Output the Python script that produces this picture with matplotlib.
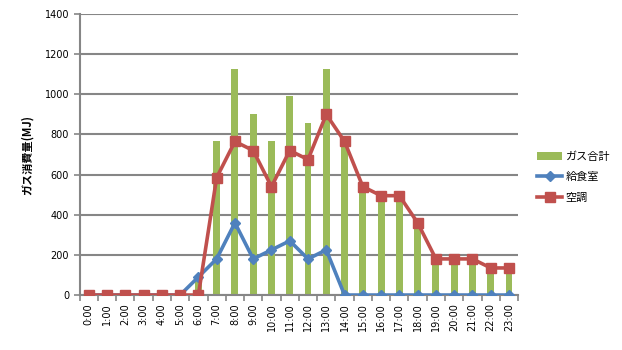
import matplotlib.pyplot as plt
import numpy as np

plt.rcParams['font.family'] = ['Noto Sans CJK JP', 'DejaVu Sans']

hours = [f"{h}:00" for h in range(24)]
gas_total = [0, 0, 0, 0, 0, 0, 90, 765, 1125, 900, 765, 990, 855, 1125,
             765, 540, 495, 495, 360, 180, 180, 180, 135, 135]
kitchen = [0, 0, 0, 0, 0, 0, 90, 180, 360, 180, 225, 270, 180, 225,
           0, 0, 0, 0, 0, 0, 0, 0, 0, 0]
aircon = [0, 0, 0, 0, 0, 0, 0, 585, 765, 720, 540, 720, 675, 900,
          765, 540, 495, 495, 360, 180, 180, 180, 135, 135]

grey = '#868686'
x = np.arange(len(hours))

fig = plt.figure(figsize=(6.22, 3.5), dpi=100)
ax = fig.add_axes([0.128, 0.157, 0.705, 0.803])

bars = ax.bar(x, gas_total, width=0.38, color='#9BBB59', label='ガス合計', zorder=2)
l1, = ax.plot(x, kitchen, color='#4F81BD', lw=2.6, marker='D', ms=5.5,
              label='給食室', zorder=3)
l2, = ax.plot(x, aircon, color='#C0504D', lw=2.6, marker='s', ms=7,
              label='空調', zorder=4)

ax.set_xlim(-0.5, 23.5)
ax.set_ylim(0, 1400)
ax.set_yticks(range(0, 1401, 200))
ax.yaxis.grid(True, color=grey, lw=1.5, zorder=0)
ax.set_axisbelow(True)

ax.set_xticks(x)
ax.set_xticklabels(hours, rotation=90, fontsize=7, family='DejaVu Sans')
ax.set_xticks(np.arange(-0.5, 24, 1), minor=True)
ax.tick_params(axis='x', which='major', length=0, pad=6)
ax.tick_params(axis='x', which='minor', length=4, color=grey, width=1.2)
ax.tick_params(axis='y', length=4, color=grey, width=1.2, labelsize=7)
for lab in ax.get_yticklabels():
    lab.set_family('DejaVu Sans')

for side in ['top', 'right']:
    ax.spines[side].set_visible(False)
for side in ['left', 'bottom']:
    ax.spines[side].set_color(grey)
    ax.spines[side].set_linewidth(1.5)

ax.set_ylabel('ガス消費量(MJ)', fontsize=8, fontweight='bold', labelpad=8)

ax.legend([bars, l1, l2], ['ガス合計', '給食室', '空調'],
          loc='center left', bbox_to_anchor=(1.02, 0.42), frameon=False,
          fontsize=8, handlelength=2.3, labelspacing=0.95, handletextpad=0.3)

fig.savefig('out.png', dpi=100)
